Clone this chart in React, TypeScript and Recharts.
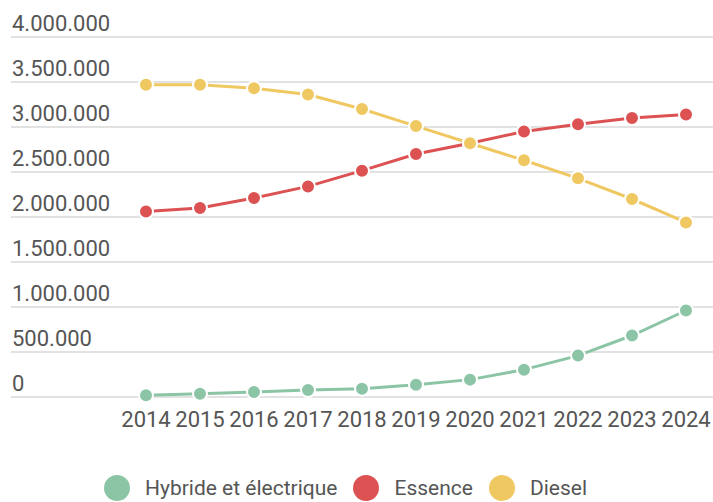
import React from 'react';
import { LineChart, Line, XAxis, YAxis, CartesianGrid, Legend } from 'recharts';

// Parc automobile par motorisation, 2014–2024
const years = ['2014', '2015', '2016', '2017', '2018', '2019', '2020', '2021', '2022', '2023', '2024'];
const hybride = [20000, 37000, 55000, 78000, 92000, 137000, 193000, 304000, 460000, 683000, 961000];
const essence = [2060000, 2100000, 2210000, 2340000, 2515000, 2700000, 2820000, 2950000, 3030000, 3100000, 3140000];
const diesel = [3470000, 3470000, 3430000, 3360000, 3200000, 3010000, 2820000, 2630000, 2430000, 2200000, 1940000];
const yTicks = [0, 500000, 1000000, 1500000, 2000000, 2500000, 3000000, 3500000, 4000000];

const series = [
  { key: 'hybride', name: 'Hybride et électrique', color: '#8cc5a6', values: hybride },
  { key: 'essence', name: 'Essence', color: '#dc5253', values: essence },
  { key: 'diesel', name: 'Diesel', color: '#efc862', values: diesel },
];

const data = years.map((year, i) => ({
  year,
  hybride: hybride[i],
  essence: essence[i],
  diesel: diesel[i],
}));

const FONT = 'Roboto, sans-serif';
const TEXT = '#555555';

const formatThousands = (v: number) => String(v).replace(/\B(?=(\d{3})+(?!\d))/g, '.');

// Y labels sit just above their gridline, left-aligned at the grid start
const renderYTick = (props: any) => {
  const { x, y, payload } = props;
  return (
    <text x={x + 1} y={y - 6.5} fill={TEXT} fontSize={22} fontFamily={FONT} textAnchor="start">
      {formatThousands(payload.value)}
    </text>
  );
};

const LegendContent = () => (
  <div
    style={{
      display: 'flex',
      justifyContent: 'flex-start',
      alignItems: 'center',
      paddingLeft: 104,
      fontFamily: FONT,
      fontSize: 21,
      color: '#555',
    }}
  >
    {series.map((s) => (
      <div key={s.key} style={{ display: 'flex', alignItems: 'center', marginRight: 16 }}>
        <svg width={26} height={26} style={{ marginRight: 15 }}>
          <circle cx={13} cy={13} r={13} fill={s.color} />
        </svg>
        <span>{s.name}</span>
      </div>
    ))}
  </div>
);

export default function App() {
  return (
    <div style={{ position: 'absolute', left: 0, top: 0, background: '#fff' }}>
      <LineChart
        width={713}
        height={502}
        data={data}
        margin={{ top: 37, right: 0, left: 0, bottom: 75 }}
      >
        <CartesianGrid vertical={false} stroke="#e2e2e2" strokeWidth={2} />
        <XAxis
          dataKey="year"
          height={30}
          axisLine={false}
          tickLine={false}
          interval={0}
          tickMargin={8}
          padding={{ left: 135, right: 27 }}
          tick={{ fontSize: 22, fill: TEXT, fontFamily: FONT }}
        />
        <YAxis
          width={11}
          domain={[0, 4000000]}
          ticks={yTicks}
          axisLine={false}
          tickLine={false}
          tickSize={0}
          tickMargin={0}
          interval={0}
          tick={renderYTick}
        />
        <Legend
          layout="horizontal"
          verticalAlign="middle"
          align="center"
          wrapperStyle={{ top: 475, left: 0, width: 713 }}
          content={<LegendContent />}
        />
        {series.map((s) => (
          <Line
            key={s.key}
            dataKey={s.key}
            name={s.name}
            stroke={s.color}
            strokeWidth={3}
            dot={{ r: 7, fill: s.color, stroke: '#fff', strokeWidth: 2 }}
            activeDot={false}
            isAnimationActive={false}
          />
        ))}
      </LineChart>
    </div>
  );
}
